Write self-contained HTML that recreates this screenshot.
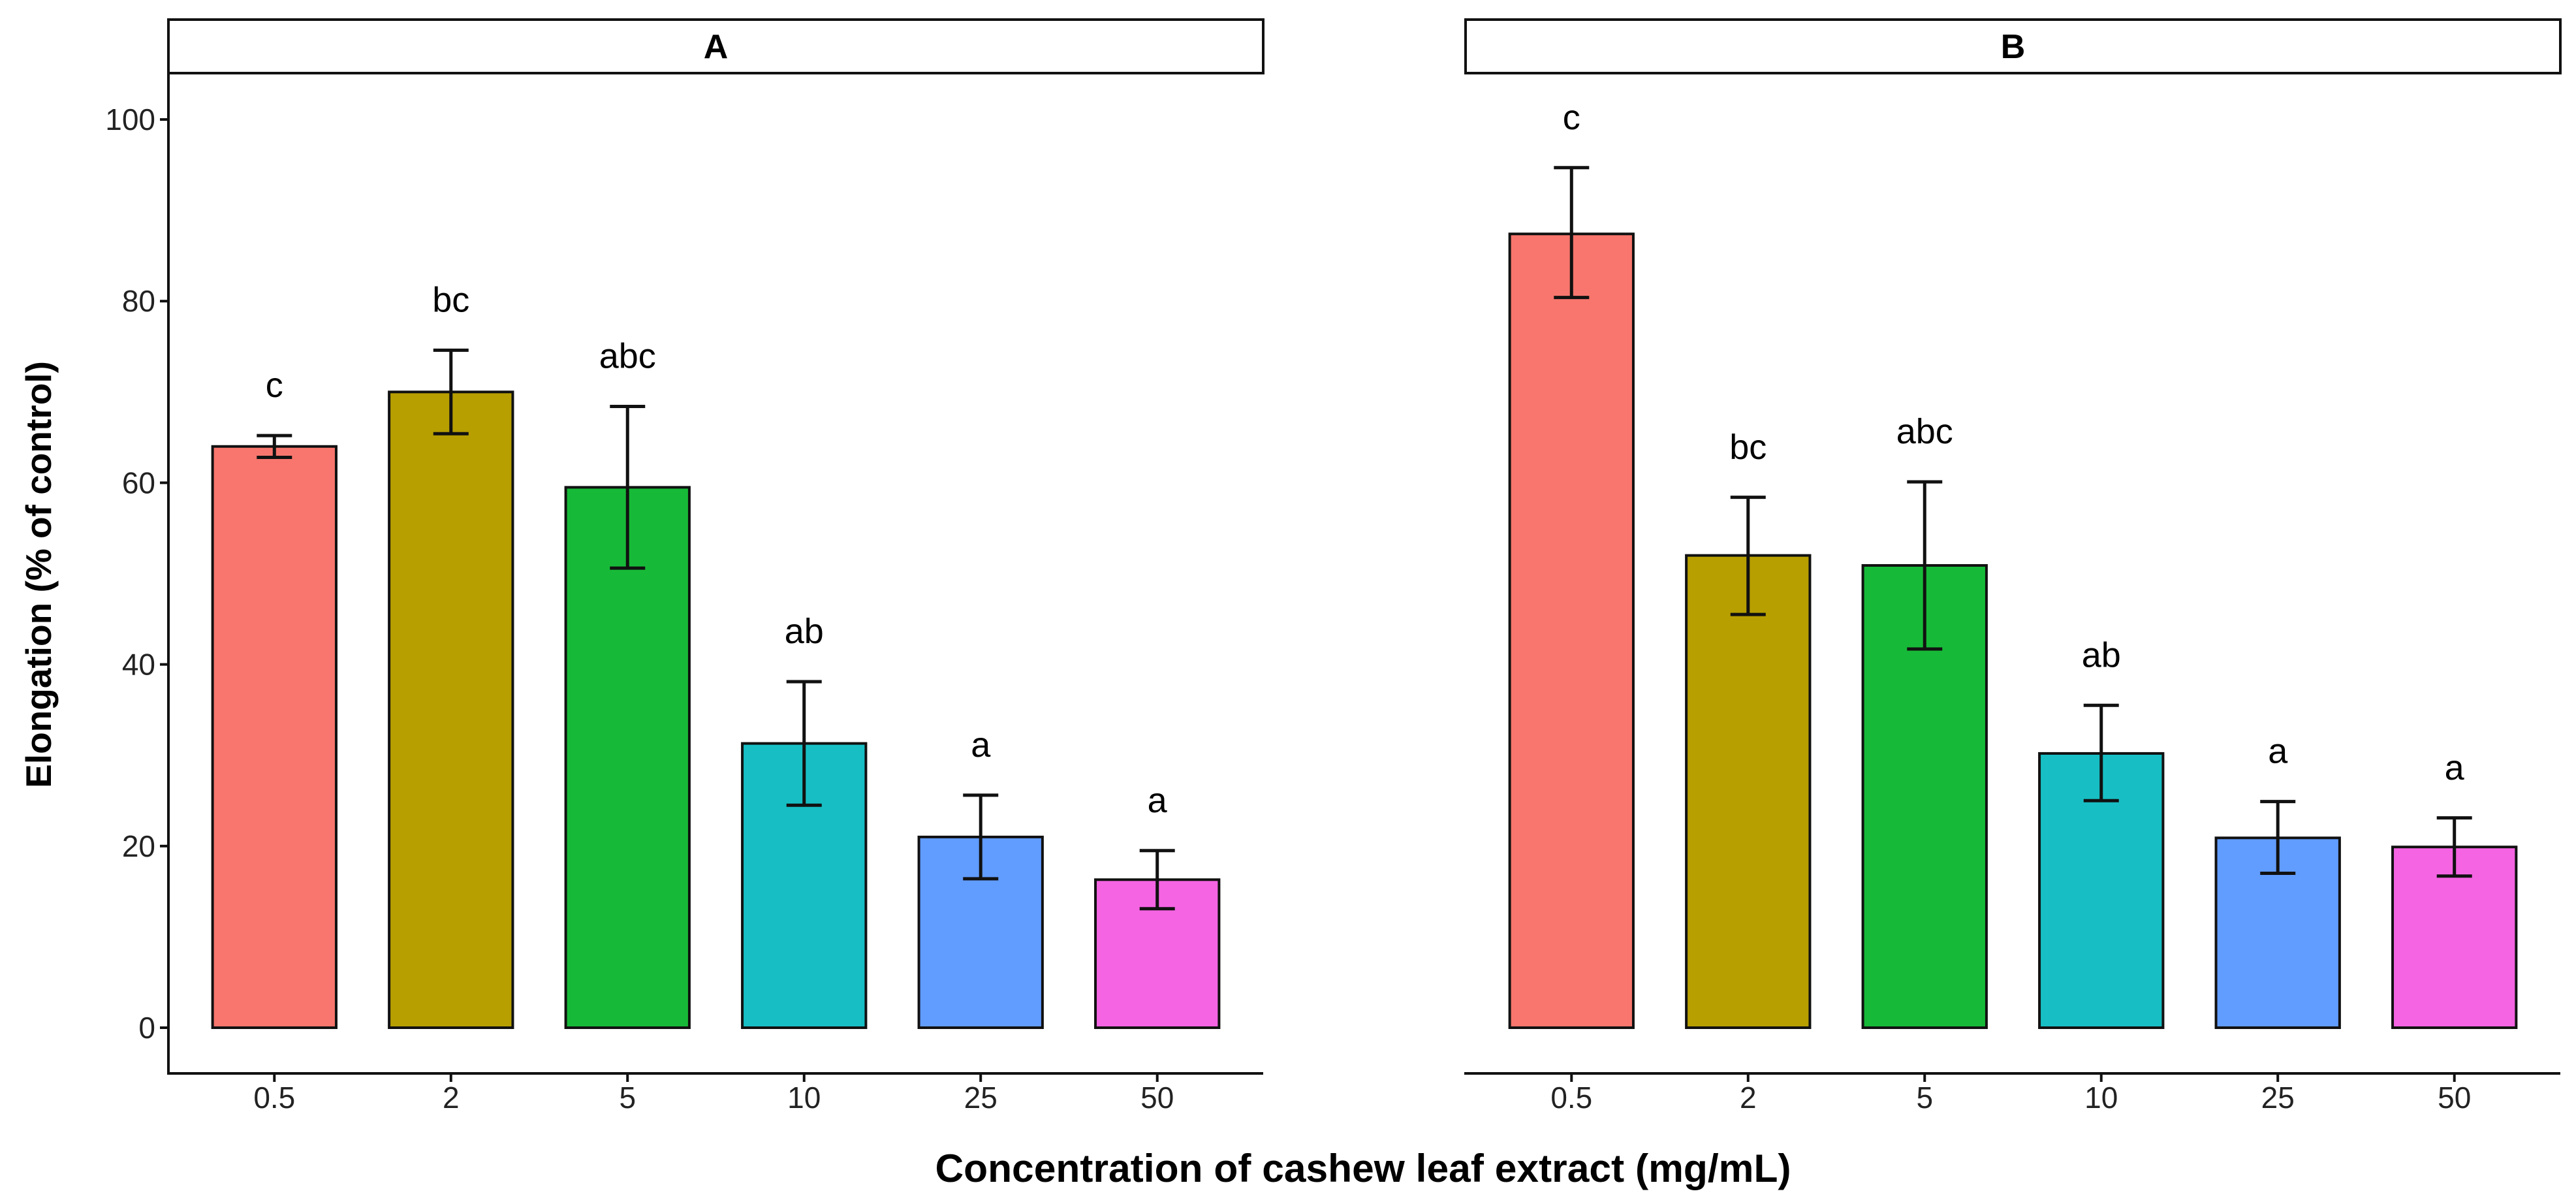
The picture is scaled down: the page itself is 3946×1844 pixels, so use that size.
<!DOCTYPE html>
<html><head><meta charset="utf-8"><style>
html,body{margin:0;padding:0;background:#fff;}
svg{display:block;font-family:"Liberation Sans",Arial,sans-serif;}
</style></head><body>
<svg id="chart" width="3946" height="1844" viewBox="0 0 3946 1844" xmlns="http://www.w3.org/2000/svg">
<text x="0" y="0" transform="translate(78,880) rotate(-90)" text-anchor="middle" font-size="55" font-weight="bold">Elongation (% of control)</text>
<text x="2088" y="1810" text-anchor="middle" font-size="60.5" font-weight="bold">Concentration of cashew leaf extract (mg/mL)</text>
</svg>
<script>
const categories = ["0.5","2","5","10","25","50"];
const colors = ["#F8766D","#B79F00","#17BA38","#17BFC4","#619CFF","#F564E3"];
const panelNames = ["A","B"];
const meansA = [64.0, 70.0, 59.5, 31.3, 21.0, 16.3];
const lowA = [62.8, 65.4, 50.6, 24.5, 16.4, 13.1];
const highA = [65.2, 74.6, 68.4, 38.1, 25.6, 19.5];
const lettersA = ["c","bc","abc","ab","a","a"];
const meansB = [87.4, 52.0, 50.9, 30.2, 20.9, 19.9];
const lowB = [80.4, 45.5, 41.7, 25.0, 17.0, 16.7];
const highB = [94.7, 58.4, 60.1, 35.5, 24.9, 23.1];
const lettersB = ["c","bc","abc","ab","a","a"];
const yTicks = [0, 20, 40, 60, 80, 100];

const NS = "http://www.w3.org/2000/svg";
const svg = document.getElementById("chart");
function mk(tag, attrs, parent){
  const e = document.createElementNS(NS, tag);
  for (const k in attrs) e.setAttribute(k, attrs[k]);
  (parent||svg).appendChild(e);
  return e;
}
const y0 = 1574, yPerUnit = 13.91;
function yScale(v){ return y0 - v * yPerUnit; }
const panels = [
  {left:258, right:1935, means:meansA, low:lowA, high:highA, letters:lettersA, showY:true},
  {left:2245, right:3922, means:meansB, low:lowB, high:highB, letters:lettersB, showY:false}
];
panels.forEach((p, pi) => {
  const g = mk("g", {});
  
  
  const unit = (p.right - p.left) / 6.2;
  const xScale = i => p.left + (i + 0.6) * unit;
  const bw = unit * 0.7;
  const strip = mk("rect", {x:p.left, y:30, width:p.right-p.left, height:82, fill:"#fff", stroke:"#111", "stroke-width":4}, g);
  
  
  const st = mk("text", {x:(p.left+p.right)/2, y:89, "text-anchor":"middle", "font-size":52, "font-weight":"bold"}, g);
  st.textContent = panelNames[pi];
  
  
  categories.forEach((c, i) => {
    const cx = xScale(i);
    const bar = mk("rect", {x:cx-bw/2, y:yScale(p.means[i]), width:bw, height:y0-yScale(p.means[i]), fill:colors[i], stroke:"#111", "stroke-width":4}, g);
    
    
    const eg = mk("g", {stroke:"#111", "stroke-width":5}, g);
    
    
    mk("line", {x1:cx, x2:cx, y1:yScale(p.low[i]), y2:yScale(p.high[i])}, eg);
    mk("line", {x1:cx-27, x2:cx+27, y1:yScale(p.low[i]), y2:yScale(p.low[i])}, eg);
    mk("line", {x1:cx-27, x2:cx+27, y1:yScale(p.high[i]), y2:yScale(p.high[i])}, eg);
    const lt = mk("text", {x:cx, y:yScale(p.high[i]+5.6)+19, "text-anchor":"middle", "font-size":54}, g);
    lt.textContent = p.letters[i];
    
    
    mk("line", {x1:cx, x2:cx, y1:1644, y2:1657, stroke:"#111", "stroke-width":4}, g);
    const tl = mk("text", {x:cx, y:1697, "text-anchor":"middle", "font-size":46, fill:"#222"}, g);
    tl.textContent = c;
    
    
  });
  const xa = mk("line", {x1:p.left-2, x2:p.right, y1:1644, y2:1644, stroke:"#111", "stroke-width":4}, g);
  
  
  if (p.showY) {
    const ya = mk("line", {x1:p.left, x2:p.left, y1:112, y2:1646, stroke:"#111", "stroke-width":4}, g);
    
    
    yTicks.forEach(t => {
      mk("line", {x1:p.left-13, x2:p.left, y1:yScale(t), y2:yScale(t), stroke:"#111", "stroke-width":4}, g);
      const yl = mk("text", {x:p.left-20, y:yScale(t)+16, "text-anchor":"end", "font-size":46, fill:"#222"}, g);
      yl.textContent = t;
      
      
    });
  }
});
</script>
</body></html>
